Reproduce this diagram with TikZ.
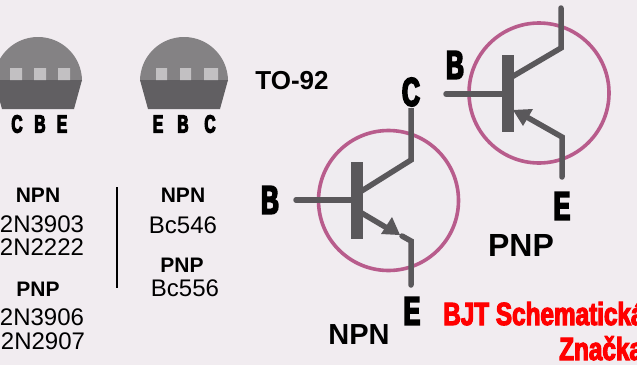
\documentclass[tikz,border=0pt]{standalone}
\usepackage{fontspec}
\setmainfont{Liberation Sans}
\newfontfamily\cond[FakeStretch=0.62,FakeBold=4.5]{Liberation Sans Bold}
\newfontfamily\condt[FakeStretch=0.76,FakeBold=3.5]{Liberation Sans Bold}
\definecolor{bgc}{HTML}{F1ECF0}
\definecolor{inner}{HTML}{EFECF0}
\definecolor{ring}{HTML}{B85C8C}
\definecolor{lead}{HTML}{5A585B}
\definecolor{dome}{HTML}{848284}
\definecolor{basec}{HTML}{615F62}
\definecolor{pin}{HTML}{C2C0C2}
\tikzset{
 x=1pt,y=-1pt,
 ringc/.style={draw=ring,line width=3.6pt,fill=inner},
 wire/.style={draw=lead,line width=5.5pt,line cap=round,line join=miter},
 barc/.style={fill=lead},
 tip/.style={fill=lead},
 pinc/.style={fill=pin},
 lbl/.style={font=\fontsize{24pt}{24pt}\selectfont,inner sep=0pt},
 headl/.style={font=\fontsize{21pt}{21pt}\selectfont\bfseries,inner sep=0pt},
 boldl/.style={font=\fontsize{26pt}{26pt}\selectfont\bfseries,inner sep=0pt},
 small/.style={font=\fontsize{25pt}{25pt}\selectfont\cond,inner sep=0pt},
 big/.style={font=\fontsize{40pt}{40pt}\selectfont\cond,inner sep=0pt},
 title/.style={font=\fontsize{32pt}{32pt}\selectfont\condt,text=red,inner sep=0pt},
}
\begin{document}
\begin{tikzpicture}
\useasboundingbox (0,0) rectangle (637,364);
\fill[bgc] (-5,-5) rectangle (642,369);
% packages
\foreach \c in {38,184}{
  \fill[dome] (\c-44,81) arc[start angle=180,end angle=0,radius=44,y radius=-44] -- cycle;
  \fill[basec] (\c-44,80) -- (\c+44,80) -- (\c+36,109) -- (\c-36,109) -- cycle;
}
\fill[pinc] (10,68) rectangle (22,80) (34,68) rectangle (46,80) (58,68) rectangle (70,80);
\fill[pinc] (156,68) rectangle (167,80) (180,68) rectangle (191,80) (204,68) rectangle (218,80);
\node[small] (c1) at (17,124) {C};
\node[small] (b1) at (40,124) {B};
\node[small] (e1) at (62,124) {E};
\node[small] (e2) at (158,124) {E};
\node[small] (b2) at (183,124) {B};
\node[small] (c2) at (210,124) {C};
\node[boldl] (to) at (292,81) {TO-92};
% part lists
\node[headl] (n1) at (38,195) {NPN};
\node[lbl] (a1) at (42,224) {2N3903};
\node[lbl] (a2) at (42,247) {2N2222};
\node[headl] (p1) at (38,289) {PNP};
\node[lbl] (a3) at (42,317) {2N3906};
\node[lbl] (a4) at (43,341) {2N2907};
\coordinate (sa) at (117,187); \coordinate (sb) at (117,288);
\draw[black,line width=2.2pt] (sa) -- (sb);
\node[headl] (n2) at (183,195) {NPN};
\node[lbl] (b3) at (183,225) {Bc546};
\node[headl] (p2) at (182,265) {PNP};
\node[lbl] (b4) at (185,288) {Bc556};
% NPN symbol
\node[ringc,circle,minimum size=140pt,inner sep=0pt] (r1) at (388.5,200.5) {};
\coordinate (nb) at (296,200); \coordinate (nbb) at (355,200);
\coordinate (nc0) at (360,192); \coordinate (nc1) at (411,160); \coordinate (nc2) at (411,108);
\coordinate (ne0) at (360,212); \coordinate (ne1) at (387,228); \coordinate (ne15) at (402,236); \coordinate (ne2) at (411,241); \coordinate (ne3) at (411,285);
\draw[wire] (nb) -- (nbb);
\draw[wire,line cap=butt] (nc0) -- (nc1) -- (nc2);
\draw[wire,line cap=butt] (ne0) -- (ne1);
\draw[wire] (ne15) -- (ne2) -- (ne3);
\fill[barc] (351,162) rectangle (363,239);
\fill[tip] (381,234) -- (392,217) -- (400,235) -- cycle;
% PNP symbol
\node[ringc,circle,minimum size=140pt,inner sep=0pt] (r2) at (539,93) {};
\coordinate (pb) at (446,94); \coordinate (pbb) at (505,94);
\coordinate (pc0) at (510,78); \coordinate (pc1) at (561,48); \coordinate (pc2) at (561,8);
\coordinate (pe0) at (525,116); \coordinate (pe1) at (562,137); \coordinate (pe2) at (562,177);
\draw[wire] (pb) -- (pbb);
\draw[wire] (pc2) -- (pc1) -- (pc0);
\draw[wire] (pe2) -- (pe1) -- (pe0);
\fill[barc] (502,55) rectangle (514,132);
\fill[tip] (513,110) -- (533,109) -- (523,126) -- cycle;
% big labels
\node[big] (lb1) at (270,200) {B};
\node[big] (lc1) at (411,92) {C};
\node[big] (le1) at (412,311) {E};
\node[big] (lb2) at (455,65) {B};
\node[big] (le2) at (562,206) {E};
\node[font=\fontsize{32pt}{32pt}\selectfont\bfseries,inner sep=0pt] (pl) at (521,245) {PNP};
\node[font=\fontsize{29pt}{29pt}\selectfont\bfseries,inner sep=0pt] (nl) at (359,335) {NPN};
\node[title,anchor=base west] (t1) at (443,325) {BJT Schematická};
\node[title,anchor=base west] (t2) at (559,360) {Značka};
\end{tikzpicture}
\end{document}
